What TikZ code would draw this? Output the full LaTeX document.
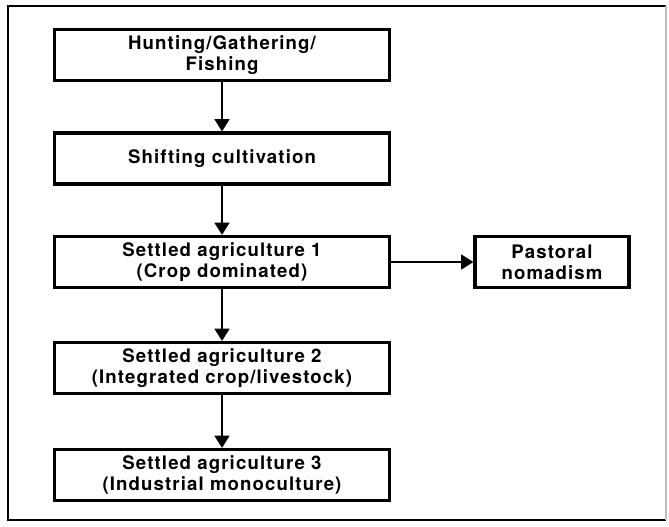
\documentclass[tikz,border=0pt]{standalone}
\usepackage{fontspec}
\setmainfont[LetterSpace=6]{TeX Gyre Heros}
\usetikzlibrary{arrows.meta}

\begin{document}
\begin{tikzpicture}[x=0.02cm, y=-0.02cm,
  stage/.style={draw, line width=1.8pt, align=center, inner sep=2pt,
    minimum width=6.7cm, minimum height=1.02cm,
    font=\bfseries\fontsize{10.6}{12}\selectfont},
  flow/.style={line width=1.1pt, -{Triangle[length=7pt, width=8.5pt]}},
  frame/.style={line width=1pt}]

\useasboundingbox (0,0) rectangle (669,527);

% outer frame
\draw[frame] (666,6) -- (8,6) -- (8,520) -- (666,520);
\draw[frame, black!25] (666,6) -- (666,520);

\node[stage] (hunt) at (222,55) {Hunting/Gathering/\\Fishing};
\node[stage] (shift) at (222,158.5) {Shifting cultivation};
\node[stage] (settled1) at (222,262) {Settled agriculture 1\\(Crop dominated)};
\node[stage, minimum width=3.08cm] (pastoral) at (552,262) {Pastoral\\nomadism};
\node[stage] (settled2) at (222,368) {Settled agriculture 2\\(Integrated crop/livestock)};
\node[stage] (settled3) at (222,475) {Settled agriculture 3\\(Industrial monoculture)};

\draw[flow] (hunt) -- (shift);
\draw[flow] (shift) -- (settled1);
\draw[flow] (settled1) -- (pastoral);
\draw[flow] (settled1) -- (settled2);
\draw[flow] (settled2) -- (settled3);

\end{tikzpicture}
\end{document}
